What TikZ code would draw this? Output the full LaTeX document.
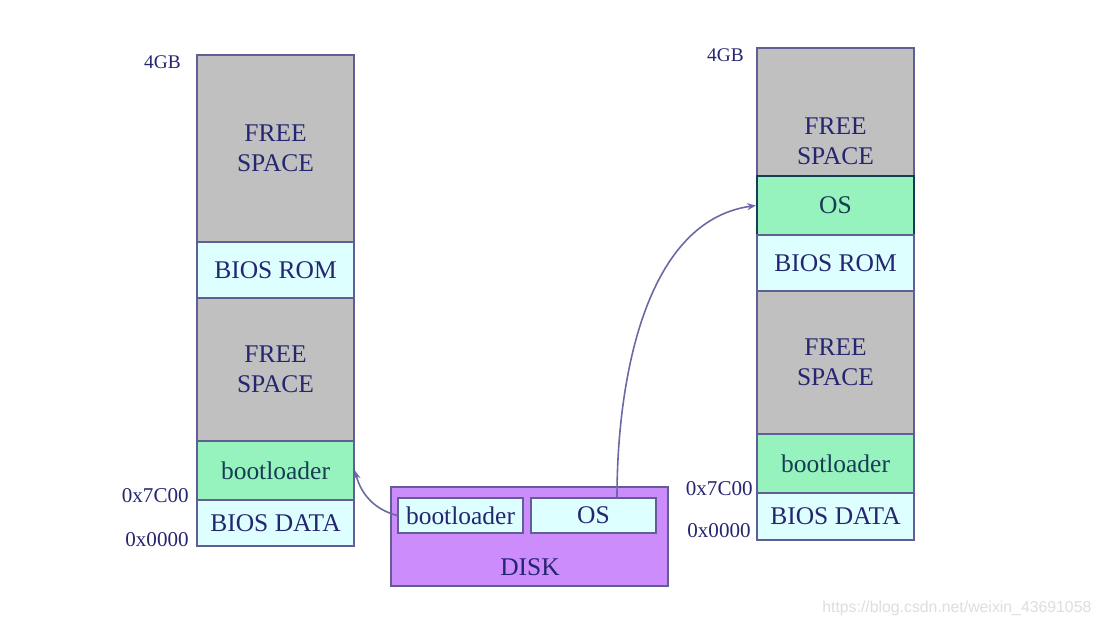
\documentclass[tikz,border=0pt]{standalone}
\usepackage{fontspec}
\setmainfont{Liberation Serif}
\newfontfamily\markfont{Liberation Sans}
\usepackage{xcolor}
\usepackage{tikz}
\usetikzlibrary{positioning,calc,arrows.meta}

\definecolor{edgeblue}{RGB}{95,95,150}
\definecolor{inkblue}{RGB}{38,38,112}
\definecolor{inkteal}{RGB}{25,60,85}
\definecolor{memgray}{RGB}{192,192,192}
\definecolor{memcyan}{RGB}{221,255,255}
\definecolor{memgreen}{RGB}{150,243,190}
\definecolor{diskpurple}{RGB}{204,140,252}
\definecolor{linkblue}{RGB}{105,105,165}

\begin{document}
\begin{tikzpicture}[x=0.02cm,y=-0.02cm,
    mem/.style={draw=edgeblue,line width=1pt,minimum width=3.14cm,inner sep=0pt,
        align=center,text=inkblue,font=\fontsize{14.5}{17}\selectfont},
    freebox/.style={mem,fill=memgray},
    rombox/.style={mem,fill=memcyan},
    codebox/.style={mem,fill=memgreen,text=inkteal},
    addr/.style={anchor=east,inner sep=0pt,text=inkblue,font=\fontsize{12}{14}\selectfont},
    link/.style={draw=linkblue,line width=0.9pt,-{Stealth[length=5pt,width=4pt]}}]
    \useasboundingbox[fill=white] (0,0) rectangle (1102,627);

    % memory before loading the OS
    \node[freebox,minimum height=3.74cm] (lfreetop) at (275.5,148.5) {FREE\\SPACE};
    \node[rombox,minimum height=1.12cm] (lrom) at (275.5,270) {BIOS ROM};
    \node[freebox,minimum height=2.86cm] (lfreelow) at (275.5,369.5) {FREE\\SPACE};
    \node[codebox,minimum height=1.18cm] (lboot) at (275.5,470.5) {bootloader};
    \node[rombox,minimum height=0.92cm] (ldata) at (275.5,523) {BIOS DATA};
    \node[addr,font=\fontsize{11}{13}\selectfont] (ltop) at (181,62) {4GB};
    \node[addr] (lmid) at (189,496) {0x7C00};
    \node[addr] (lzero) at (189,540) {0x0000};

    % memory after loading the OS
    \node[freebox,minimum height=3.74cm] (rfreetop) at (835.5,141.5) {FREE\\SPACE};
    \node[codebox,minimum height=1.18cm,draw=inkteal,line width=1.3pt] (ros) at (835.5,205.5) {OS};
    \node[rombox,minimum height=1.12cm] (rrom) at (835.5,263) {BIOS ROM};
    \node[freebox,minimum height=2.86cm] (rfreelow) at (835.5,362.5) {FREE\\SPACE};
    \node[codebox,minimum height=1.18cm] (rboot) at (835.5,463.5) {bootloader};
    \node[rombox,minimum height=0.94cm] (rdata) at (835.5,516.5) {BIOS DATA};
    \node[addr,font=\fontsize{11}{13}\selectfont] (rtop) at (744,55) {4GB};
    \node[addr] (rmid) at (753,489) {0x7C00};
    \node[addr] (rzero) at (751,531) {0x0000};

    % disk
    \node[mem,fill=diskpurple,minimum width=5.54cm,minimum height=1.98cm] (disk) at (529.5,536.5) {};
    \node[inner sep=0pt,text=inkblue,font=\fontsize{14.5}{17}\selectfont] (disklabel) at (530,567) {DISK};
    \node[rombox,minimum width=2.5cm,minimum height=0.7cm] (dboot) at (460.5,515.5) {bootloader};
    \node[rombox,minimum width=2.5cm,minimum height=0.7cm] (dos) at (593.5,515.5) {OS};

    \draw[link] (dboot.west) to[out=165,in=-75] (lboot.east);
    \draw[link] ([xshift=0.47cm]dos.north) to[out=90,in=188,looseness=0.9] (ros.west);

    \node[anchor=west,inner sep=0pt,text=black!13,font=\markfont\fontsize{9}{11}\selectfont] (mark) at (822,608) {https://blog.csdn.net/weixin\_43691058};
\end{tikzpicture}
\end{document}
